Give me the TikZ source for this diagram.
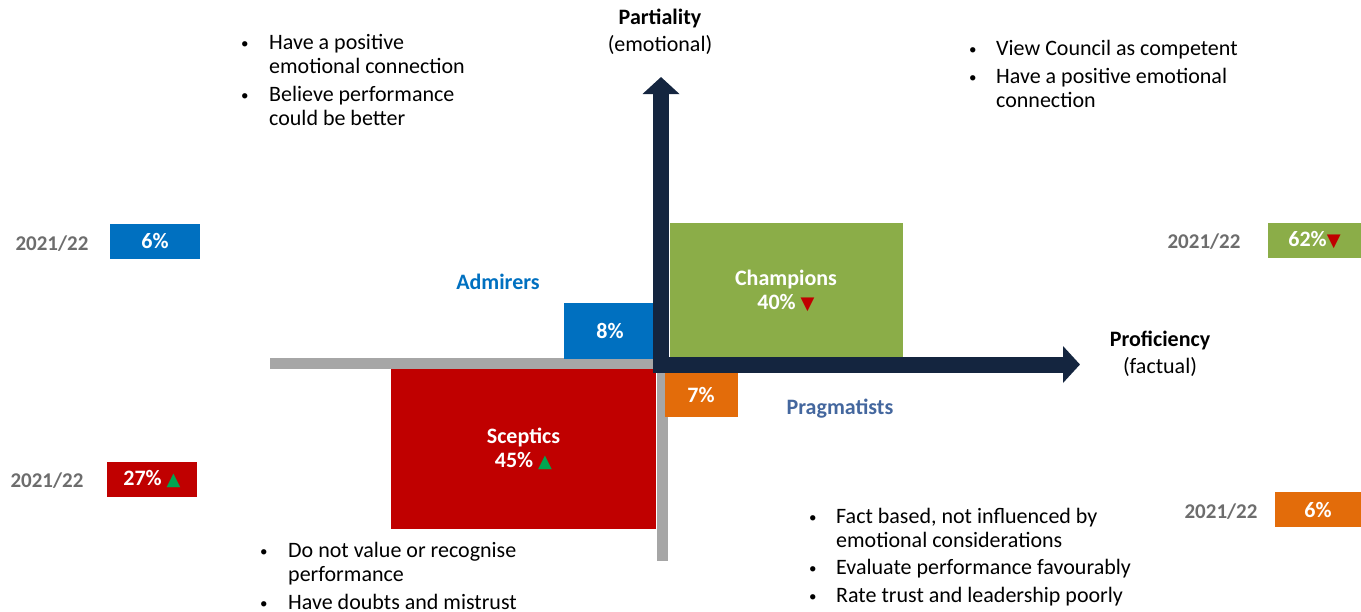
\documentclass[tikz,border=0pt]{standalone}
\usepackage{fontspec}
\setmainfont{Carlito}
\newfontfamily\symfont{DejaVu Sans}
\usetikzlibrary{arrows.meta, positioning}
\definecolor{navy}{HTML}{14253F}
\definecolor{axisgray}{HTML}{A6A6A6}
\definecolor{champgreen}{HTML}{8BAD48}
\definecolor{admirblue}{HTML}{0070C0}
\definecolor{pragorange}{HTML}{E36C0A}
\definecolor{sceptred}{HTML}{C00000}
\definecolor{upgreen}{HTML}{00A651}
\definecolor{yeargray}{HTML}{6D6D6D}
\definecolor{pragslate}{HTML}{44679E}
\newcommand{\upmark}{{\symfont\fontsize{18}{18}\selectfont\color{upgreen}▲}}
\newcommand{\downmark}{{\symfont\fontsize{18}{18}\selectfont\color{sceptred}▼}}
\newcommand{\blt}{\raisebox{1pt}{\fontsize{15}{15}\selectfont•}}

\begin{document}
\begin{tikzpicture}[x=1pt, y=-1pt, font=\fontsize{22}{24}\selectfont,
  seg/.style={fill=#1, text=white, font=\fontsize{22}{24}\selectfont\bfseries, inner sep=0pt, align=center},
  yearlbl/.style={text=yeargray, font=\fontsize{21}{24}\selectfont\bfseries},
  blurb/.style={anchor=base west, inner sep=0pt},
  axis/.style={draw=navy, line width=16pt,
    {Triangle[width=36pt, length=17pt]}-{Triangle[width=36pt, length=17pt]}},
  grayline/.style={draw=axisgray, line width=11.5pt}]
  \useasboundingbox (0,0) rectangle (1361,611);

  \coordinate (gleft) at (270,363.5);
  \coordinate (gbot) at (662.5,561);
  \draw[grayline] (gleft) -| (gbot);

  \node[seg=sceptred, minimum width=265pt, minimum height=160pt] (scep) at (523.5,449) {Sceptics\\45\% \upmark};
  \node[seg=champgreen, minimum width=233pt, minimum height=135pt] (champ) at (786,290.5) {Champions\\40\% \downmark};
  \node[seg=admirblue, minimum width=92pt, minimum height=56pt] (admir) at (610,331) {8\%};
  \node[seg=pragorange, minimum width=73pt, minimum height=44pt] (prag) at (701,395) {7\%};

  \node[text=admirblue, font=\fontsize{22}{24}\selectfont\bfseries] (admirlbl) at (498,282) {Admirers};
  \node[text=pragslate, font=\fontsize{22}{24}\selectfont\bfseries] (praglbl) at (840,409) {Pragmatists};

  \coordinate (ytip) at (661,77);
  \coordinate (xtip) at (1080,364.5);
  \draw[axis] (ytip) |- (xtip);

  \node[align=center] (partial) at (660,32) {\textbf{Partiality}\\[3pt](emotional)};
  \node[align=center] (profic) at (1160,354) {\textbf{Proficiency}\\[3pt](factual)};

  \node[seg=admirblue, minimum width=90pt, minimum height=35pt] (old6) at (155,241.5) {6\%};
  \node[seg=sceptred, minimum width=90pt, minimum height=35pt] (old27) at (152,479.5) {27\% \upmark};
  \node[seg=champgreen, minimum width=93pt, minimum height=35pt] (old62) at (1314.5,240.5) {62\%\downmark};
  \node[seg=pragorange, minimum width=86pt, minimum height=35pt] (oldprag) at (1318,509.5) {6\%};
  \node[yearlbl] (yr6) at (52,244) {2021/22};
  \node[yearlbl] (yr27) at (47,481) {2021/22};
  \node[yearlbl] (yr62) at (1204,242) {2021/22};
  \node[yearlbl] (yrprag) at (1221,512) {2021/22};

  \node[blurb] (admirtext) at (241,49) {\begin{tabular}[t]{@{}p{28pt}@{}l@{}}
    \blt & Have a positive\\ & emotional connection\\[4pt]
    \blt & Believe performance\\ & could be better\end{tabular}};
  \node[blurb] (champtext) at (969,55) {\begin{tabular}[t]{@{}p{27pt}@{}l@{}}
    \blt & View Council as competent\\[4pt]
    \blt & Have a positive emotional\\ & connection\end{tabular}};
  \node[blurb] (sceptext) at (260,557) {\begin{tabular}[t]{@{}p{28pt}@{}l@{}}
    \blt & Do not value or recognise\\ & performance\\[4pt]
    \blt & Have doubts and mistrust\end{tabular}};
  \node[blurb] (pragtext) at (809,523) {\begin{tabular}[t]{@{}p{27pt}@{}l@{}}
    \blt & Fact based, not influenced by\\ & emotional considerations\\[3pt]
    \blt & Evaluate performance favourably\\[4pt]
    \blt & Rate trust and leadership poorly\end{tabular}};
\end{tikzpicture}
\end{document}
